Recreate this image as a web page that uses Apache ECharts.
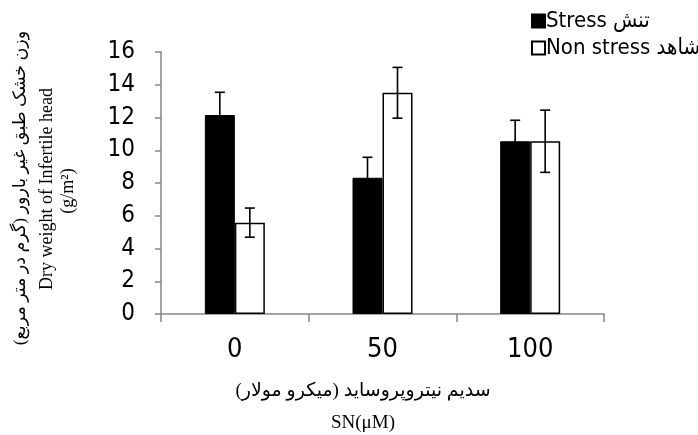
<!DOCTYPE html>
<html>
<head>
<meta charset="utf-8">
<script src="https://cdn.jsdelivr.net/npm/echarts@6/dist/echarts.min.js"></script>
<style>
html,body{margin:0;padding:0;background:#fff;}
#chart{width:698px;height:435px;}
</style>
</head>
<body>
<div id="chart"></div>
<script>
const categories = ['0', '50', '100'];
const stressName = 'Stress تنش';
const nonStressName = 'Non stress شاهد';
const stressValues = [12.15, 8.32, 10.55];
const stressErrors = [1.39, 1.25, 1.28];
const nonStressValues = [5.58, 13.51, 10.55];
const nonStressErrors = [0.89, 1.55, 1.90];
const yTicks = { min: 0, max: 16, interval: 2 };

const narrow = "'Liberation Sans Narrow', 'Arial Narrow', 'DejaVu Sans Condensed', 'Liberation Sans', sans-serif";
const serif = "'Liberation Serif', 'DejaVu Serif', 'DejaVu Sans', serif";
const axisGray = '#868686';

function errData(vals, errs) {
  return vals.map((v, i) => [i, v - errs[i], v + errs[i]]);
}
function errRender(offset) {
  return function (params, api) {
    const i = api.value(0);
    const top = api.coord([i, api.value(2)]);
    const bot = api.coord([i, api.value(1)]);
    const x = top[0] + offset;
    const cap = 5;
    const st = { stroke: '#000', lineWidth: 1.6 };
    return {
      type: 'group',
      children: [
        { type: 'line', shape: { x1: x, y1: top[1], x2: x, y2: bot[1] }, style: st },
        { type: 'line', shape: { x1: x - cap, y1: top[1], x2: x + cap, y2: top[1] }, style: st },
        { type: 'line', shape: { x1: x - cap, y1: bot[1], x2: x + cap, y2: bot[1] }, style: st }
      ]
    };
  };
}

const chart = echarts.init(document.getElementById('chart'), null, { renderer: 'canvas' });
chart.setOption({
  animation: false,
  backgroundColor: '#fff',
  grid: { left: 161, right: 94, top: 52, bottom: 121 },
  legend: {
    orient: 'vertical',
    left: 526,
    top: 5,
    itemWidth: 13,
    itemHeight: 13,
    itemGap: 5,
    icon: 'rect',
    data: [stressName, nonStressName],
    textStyle: { fontFamily: narrow, fontSize: 22, color: '#000', padding: [0, 0, 0, -4] }
  },
  xAxis: {
    type: 'category',
    data: categories,
    axisLine: { lineStyle: { color: axisGray, width: 1.5 } },
    axisTick: { show: true, length: 8, lineStyle: { color: axisGray, width: 1.5 } },
    axisLabel: { fontFamily: narrow, fontSize: 27, color: '#000', margin: 22 },
    splitLine: { show: false }
  },
  yAxis: {
    type: 'value',
    min: yTicks.min,
    max: yTicks.max,
    interval: yTicks.interval,
    axisLine: { show: true, lineStyle: { color: axisGray, width: 1.5 } },
    axisTick: { show: true, length: 6, lineStyle: { color: axisGray, width: 1.5 } },
    axisLabel: { fontFamily: narrow, fontSize: 24, color: '#000', margin: 26 },
    splitLine: { show: false }
  },
  series: [
    {
      name: stressName, type: 'bar', data: stressValues, barWidth: 30, barGap: '0%',
      itemStyle: { color: '#000', borderColor: '#000', borderWidth: 1 }
    },
    {
      name: nonStressName, type: 'bar', data: nonStressValues, barWidth: 30, barGap: '0%',
      itemStyle: { color: '#fff', borderColor: '#000', borderWidth: 1.5 }
    },
    { type: 'custom', renderItem: errRender(-15), data: errData(stressValues, stressErrors), z: 5, silent: true },
    { type: 'custom', renderItem: errRender(15), data: errData(nonStressValues, nonStressErrors), z: 5, silent: true }
  ],
  graphic: [
    { type: 'text', x: 20, y: 188, rotation: Math.PI / 2,
      style: { text: '\u200Fوزن خشک طبق غیر بارور (گرم در متر مربع)\u200F', font: '17.5px ' + serif, fill: '#000', align: 'center', verticalAlign: 'middle' } },
    { type: 'text', x: 47, y: 189, rotation: Math.PI / 2,
      style: { text: 'Dry weight of Infertile head', font: '18px ' + serif, fill: '#000', align: 'center', verticalAlign: 'middle' } },
    { type: 'text', x: 68, y: 191, rotation: Math.PI / 2,
      style: { text: '(g/m²)', font: '18px ' + serif, fill: '#000', align: 'center', verticalAlign: 'middle' } },
    { type: 'text', x: 363, y: 391,
      style: { text: '\u200Fسدیم نیتروپروساید (میکرو مولار)\u200F', font: '19px ' + serif, fill: '#000', align: 'center', verticalAlign: 'middle' } },
    { type: 'text', x: 363, y: 423,
      style: { text: 'SN(μM)', font: '19px ' + serif, fill: '#000', align: 'center', verticalAlign: 'middle' } }
  ]
});
</script>
</body>
</html>
